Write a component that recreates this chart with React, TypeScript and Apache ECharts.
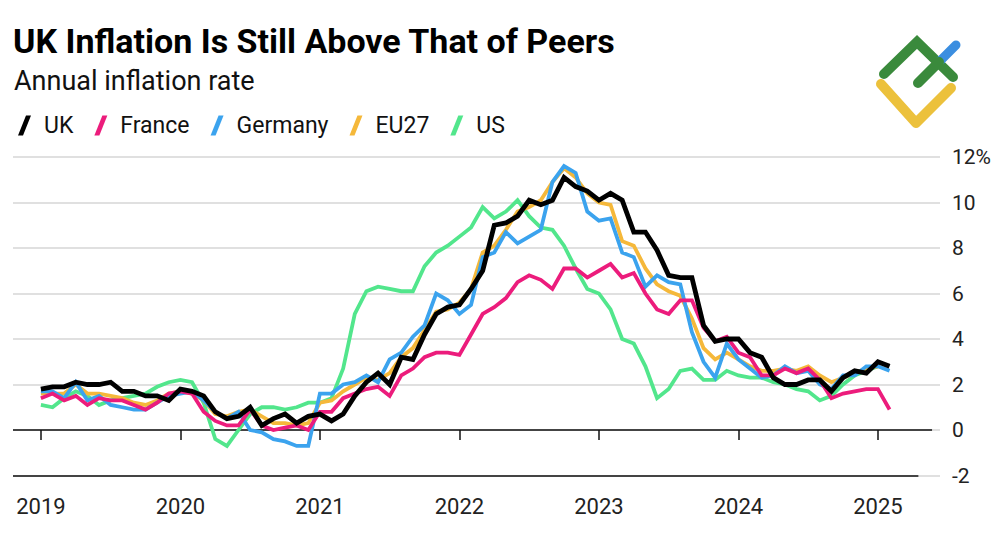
import React, { useEffect, useRef } from "react";
import * as echarts from "echarts";

// Monthly readings, Jan 2019 onward (annual inflation, %)
const startYear = 2019;
const ukValues = [
  1.8, 1.9, 1.9, 2.1, 2.0, 2.0, 2.1, 1.7, 1.7, 1.5, 1.5, 1.3,
  1.8, 1.7, 1.5, 0.8, 0.5, 0.6, 1.0, 0.2, 0.5, 0.7, 0.3, 0.6,
  0.7, 0.4, 0.7, 1.5, 2.1, 2.5, 2.0, 3.2, 3.1, 4.2, 5.1, 5.4,
  5.5, 6.2, 7.0, 9.0, 9.1, 9.4, 10.1, 9.9, 10.1, 11.1, 10.7, 10.5,
  10.1, 10.4, 10.1, 8.7, 8.7, 7.9, 6.8, 6.7, 6.7, 4.6, 3.9, 4.0,
  4.0, 3.4, 3.2, 2.3, 2.0, 2.0, 2.2, 2.2, 1.7, 2.3, 2.6, 2.5,
  3.0, 2.8,
];
const franceValues = [
  1.4, 1.6, 1.3, 1.5, 1.1, 1.4, 1.3, 1.3, 1.1, 0.9, 1.2, 1.6,
  1.7, 1.6, 0.8, 0.4, 0.2, 0.2, 0.9, 0.2, 0.0, 0.1, 0.2, 0.0,
  0.8, 0.8, 1.4, 1.6, 1.8, 1.9, 1.5, 2.4, 2.7, 3.2, 3.4, 3.4,
  3.3, 4.2, 5.1, 5.4, 5.8, 6.5, 6.8, 6.6, 6.2, 7.1, 7.1, 6.7,
  7.0, 7.3, 6.7, 6.9, 6.0, 5.3, 5.1, 5.7, 5.7, 4.5, 3.9, 4.1,
  3.4, 3.2, 2.4, 2.4, 2.7, 2.5, 2.7, 2.2, 1.4, 1.6, 1.7, 1.8,
  1.8, 0.9,
];
const germanyValues = [
  1.7, 1.7, 1.4, 2.1, 1.3, 1.5, 1.1, 1.0, 0.9, 0.9, 1.2, 1.5,
  1.6, 1.7, 1.3, 0.8, 0.5, 0.8, 0.0, -0.1, -0.4, -0.5, -0.7, -0.7,
  1.6, 1.6, 2.0, 2.1, 2.4, 2.1, 3.1, 3.4, 4.1, 4.6, 6.0, 5.7,
  5.1, 5.5, 7.6, 7.8, 8.7, 8.2, 8.5, 8.8, 10.9, 11.6, 11.3, 9.6,
  9.2, 9.3, 7.8, 7.6, 6.3, 6.8, 6.5, 6.4, 4.3, 3.0, 2.3, 3.8,
  3.1, 2.7, 2.3, 2.4, 2.8, 2.5, 2.6, 2.0, 1.8, 2.4, 2.4, 2.8,
  2.8, 2.6,
];
const eu27Values = [
  1.6, 1.6, 1.6, 2.0, 1.6, 1.6, 1.5, 1.4, 1.2, 1.1, 1.3, 1.6,
  1.7, 1.6, 1.3, 0.7, 0.6, 0.8, 0.9, 0.6, 0.3, 0.3, 0.2, 0.3,
  1.2, 1.3, 1.7, 2.0, 2.3, 2.2, 2.5, 3.2, 3.6, 4.4, 5.2, 5.3,
  5.6, 6.2, 7.8, 8.1, 8.8, 9.6, 9.8, 10.1, 10.9, 11.5, 11.1, 10.4,
  10.0, 9.9, 8.3, 8.1, 7.1, 6.4, 6.1, 5.9, 4.9, 3.6, 3.1, 3.4,
  3.1, 2.8, 2.6, 2.6, 2.7, 2.6, 2.8, 2.4, 2.1, 2.3, 2.5, 2.7,
  2.8,
];
const usValues = [
  1.1, 1.0, 1.4, 1.7, 1.5, 1.1, 1.3, 1.4, 1.5, 1.6, 1.9, 2.1,
  2.2, 2.1, 1.2, -0.4, -0.7, 0.0, 0.7, 1.0, 1.0, 0.9, 1.0, 1.2,
  1.2, 1.4, 2.7, 5.1, 6.1, 6.3, 6.2, 6.1, 6.1, 7.2, 7.8, 8.1,
  8.5, 8.9, 9.8, 9.3, 9.6, 10.1, 9.4, 8.9, 8.8, 8.1, 7.1, 6.2,
  6.0, 5.3, 4.0, 3.8, 2.8, 1.4, 1.8, 2.6, 2.7, 2.2, 2.2, 2.6,
  2.4, 2.3, 2.3, 2.1, 2.0, 1.8, 1.7, 1.3, 1.5, 2.0, 2.4, 2.6,
  2.8,
];

const yearTicks = [2019, 2020, 2021, 2022, 2023, 2024, 2025];
const yTicks = [-2, 0, 2, 4, 6, 8, 10, 12];
const legendNames = ["UK", "France", "Germany", "EU27", "US"];

const COLORS: Record<string, string> = {
  UK: "#000000",
  France: "#ec1c7c",
  Germany: "#3ba3ee",
  EU27: "#f5b83a",
  US: "#52e68c",
};

const FONT = "Roboto, 'Liberation Sans', Arial, sans-serif";

function toPoints(vals: number[]) {
  return vals.map((v, i) => [startYear + i / 12, v]);
}

export default function App() {
  const ref = useRef<HTMLDivElement>(null);

  useEffect(() => {
    if (!ref.current) return;
    const chart = echarts.init(ref.current, null, { renderer: "svg" });
    const xMin = 2018.8;
    const xMax = 2025.445;

    const mk = (name: string, vals: number[], width: number, extra: any = {}) => ({
      name,
      type: "line",
      data: toPoints(vals),
      showSymbol: false,
      symbol: "none",
      lineStyle: { color: COLORS[name], width, join: "miter" },
      itemStyle: { color: COLORS[name] },
      z: 3,
      ...extra,
    });

    const slashIcon = "path://M8,0 L13,0 L5,20 L0,20 Z";

    chart.setOption({
      animation: false,
      backgroundColor: "#ffffff",
      textStyle: { fontFamily: FONT },
      title: [
        {
          text: "UK Inflation Is Still Above That of Peers",
          left: 8,
          top: 19,
          textStyle: { fontSize: 34, fontWeight: "bold", color: "#000", fontFamily: FONT },
        },
        {
          text: "Annual inflation rate",
          left: 9,
          top: 62,
          textStyle: { fontSize: 27, fontWeight: "normal", color: "#111", fontFamily: FONT },
        },
      ],
      legend: {
        data: legendNames.map((n) => ({ name: n, icon: slashIcon })),
        left: 13,
        top: 109,
        itemWidth: 13,
        itemHeight: 20,
        itemGap: 21,
        selectedMode: false,
        textStyle: { fontSize: 23, color: "#111", fontFamily: FONT, padding: [0, 0, 0, 8] },
      },
      grid: { left: 13, right: 60, top: 157, bottom: 69.5 },
      xAxis: {
        type: "value",
        min: xMin,
        max: xMax,
        axisLine: { show: false },
        splitLine: { show: false },
        axisTick: {
          show: true,
          customValues: yearTicks,
          length: 10,
          lineStyle: { color: "#111", width: 1.5 },
        },
        axisLabel: {
          customValues: yearTicks,
          formatter: (v: number) => String(Math.round(v)),
          fontSize: 22,
          color: "#222",
          margin: 20,
          fontFamily: FONT,
        },
      },
      yAxis: {
        type: "value",
        position: "right",
        min: -2,
        max: 12,
        interval: 2,
        axisLine: { show: false },
        axisTick: { show: false },
        splitLine: { lineStyle: { color: "#d6d6d6", width: 1.5 } },
        axisLabel: {
          customValues: yTicks,
          formatter: (v: number) => (v === 12 ? "12%" : String(v)),
          fontSize: 21,
          color: "#222",
          margin: 12,
          fontFamily: FONT,
        },
      },
      series: [
        mk("US", usValues, 3.8, {
          markLine: {
            silent: true,
            symbol: "none",
            label: { show: false },
            lineStyle: { type: "solid", color: "#111", width: 1.5 },
            data: [
              [{ coord: [xMin, 0] }, { coord: [2025.388, 0] }],
              [{ coord: [xMin, -2] }, { coord: [2025.29, -2] }],
            ],
            z: 2,
          },
        }),
        mk("EU27", eu27Values, 3.8),
        mk("Germany", germanyValues, 3.8),
        mk("France", franceValues, 3.8),
        mk("UK", ukValues, 4.8),
      ],
      graphic: [
        {
          type: "polyline",
          shape: { points: [[881, 84], [916, 123], [951, 88]] },
          style: { stroke: "#ecc13c", lineWidth: 10, fill: null, lineCap: "round", lineJoin: "round" },
          z: 10,
        },
        {
          type: "polyline",
          shape: { points: [[884, 74], [917, 42], [953, 77]] },
          style: { stroke: "#3a8a3c", lineWidth: 10, fill: null, lineCap: "round", lineJoin: "miter" },
          z: 10,
        },
        {
          type: "line",
          shape: { x1: 940, y1: 61, x2: 956, y2: 45 },
          style: { stroke: "#3b8ee0", lineWidth: 9, lineCap: "round" },
          z: 10,
        },
        {
          type: "line",
          shape: { x1: 918, y1: 83, x2: 939, y2: 62 },
          style: { stroke: "#3a8a3c", lineWidth: 10, lineCap: "round" },
          z: 10,
        },
      ],
    });

    return () => chart.dispose();
  }, []);

  return (
    <div
      ref={ref}
      style={{ position: "fixed", left: 0, top: 0, width: 1000, height: 545, background: "#fff" }}
    />
  );
}
